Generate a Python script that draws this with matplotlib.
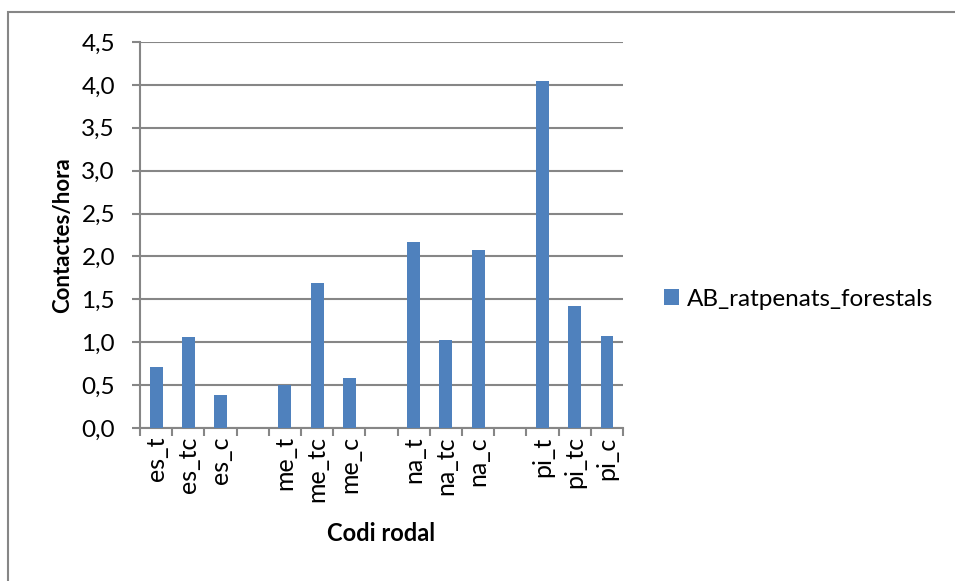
import matplotlib.pyplot as plt
from matplotlib.patches import Rectangle
from matplotlib.ticker import FixedLocator

plt.rcParams["font.family"] = ["Lato", "DejaVu Sans"]

# codis de rodal (els buits separen els grups)
codis = ["es_t", "es_tc", "es_c", "",
         "me_t", "me_tc", "me_c", "",
         "na_t", "na_tc", "na_c", "",
         "pi_t", "pi_tc", "pi_c"]
contactes = [0.71, 1.06, 0.38, 0,
             0.50, 1.69, 0.58, 0,
             2.17, 1.03, 2.07, 0,
             4.04, 1.42, 1.07]
serie = "AB_ratpenats_forestals"

fig = plt.figure(figsize=(9.55, 5.81), dpi=100)
ax = fig.add_axes([0.1466, 0.2633, 0.5058, 0.6644])

grey = "#868686"
pos = list(range(len(codis)))
ax.bar(pos, contactes, width=0.4, color="#4F81BD", label=serie, zorder=3)

ax.set_xlim(-0.5, len(codis) - 0.5)
ax.set_ylim(0, 4.5)
yt = [i * 0.5 for i in range(10)]
ax.set_yticks(yt)
ax.set_yticklabels([f"{v:.1f}".replace(".", ",") for v in yt], fontsize=17.5)
ax.yaxis.grid(True, color=grey, linewidth=1.5, zorder=0)

ax.set_xticks(pos)
ax.set_xticklabels(codis, rotation=90, fontsize=18)
ax.tick_params(axis="x", which="major", length=0, pad=6)
ax.xaxis.set_minor_locator(FixedLocator([p - 0.5 for p in range(len(codis) + 1)]))
ax.tick_params(axis="x", which="minor", length=6, width=1.5, color=grey)
ax.tick_params(axis="y", length=6, width=1.5, color=grey, pad=12)

for s in ["top", "right"]:
    ax.spines[s].set_visible(False)
for s in ["left", "bottom"]:
    ax.spines[s].set_color(grey)
    ax.spines[s].set_linewidth(1.5)

ax.set_xlabel("Codi rodal", fontsize=17, fontweight="bold", labelpad=14)
ax.set_ylabel("Contactes/hora", fontsize=16, fontweight="bold", labelpad=6)

fig.legend(loc="center left", bbox_to_anchor=(0.672, 0.485), frameon=False,
           fontsize=17.5, handlelength=0.65, handleheight=0.65, handletextpad=0.3)

# vora de l'àrea del gràfic
fig.patches.append(Rectangle((8 / 955, -0.1), 1.2, 1.1 - 12 / 581,
                             transform=fig.transFigure, fill=False,
                             edgecolor=grey, linewidth=1.5))

fig.savefig("out.png", dpi=100)
